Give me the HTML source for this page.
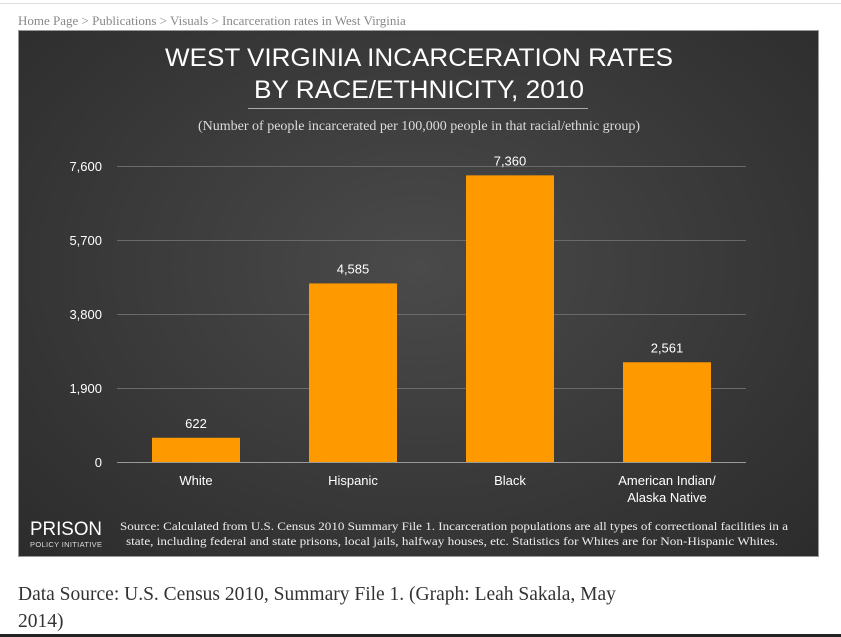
<!DOCTYPE html>
<html><head><meta charset="utf-8"><style>
body{margin:0;width:841px;height:637px;background:#fff;position:relative;overflow:hidden;font-family:"Liberation Serif",serif}
.crumb{position:absolute;left:18px;top:13px;font-size:13px;color:#888}
.panel{position:absolute;left:18px;top:30px;width:801px;height:527px;background:radial-gradient(ellipse at 50% 45%,#4a4a4a,#333 75%,#2c2c2c);border:1px solid #999;box-sizing:border-box}
.foot{position:absolute;left:18px;top:581px;font-size:19.5px;color:#333;line-height:27px;width:625px}
</style></head><body>
<div style="position:absolute;left:0;top:3px;width:841px;height:1px;background:#ddd"></div>
<div class="crumb">Home Page &gt; Publications &gt; Visuals &gt; Incarceration rates in West Virginia</div>
<div class="panel"></div>
<svg id="c" width="841" height="637" style="position:absolute;left:0;top:0">
<text x="419" y="66" text-anchor="middle" fill="#fff" font-family="Liberation Sans,sans-serif" font-size="25" textLength="508" lengthAdjust="spacingAndGlyphs">WEST VIRGINIA INCARCERATION RATES</text>
<text x="419" y="98" text-anchor="middle" fill="#fff" font-family="Liberation Sans,sans-serif" font-size="25" textLength="330" lengthAdjust="spacingAndGlyphs">BY RACE/ETHNICITY, 2010</text>
<line x1="248" x2="588" y1="108.5" y2="108.5" stroke="#aaa"/>
<text x="419" y="130" text-anchor="middle" fill="#ddd" font-size="14">(Number of people incarcerated per 100,000 people in that racial/ethnic group)</text>
<text x="30" y="535" fill="#fff" font-family="Liberation Sans,sans-serif" font-size="19" textLength="72" lengthAdjust="spacingAndGlyphs">PRISON</text>
<text x="30" y="547" fill="#ddd" font-family="Liberation Sans,sans-serif" font-size="7.5" textLength="72">POLICY INITIATIVE</text>
<text x="120" y="530" fill="#eee" font-size="12" textLength="668" lengthAdjust="spacingAndGlyphs">Source: Calculated from U.S. Census 2010 Summary File 1. Incarceration populations are all types of correctional facilities in a</text>
<text x="126" y="545" fill="#eee" font-size="12" textLength="652" lengthAdjust="spacingAndGlyphs">state, including federal and state prisons, local jails, halfway houses, etc. Statistics for Whites are for Non-Hispanic Whites.</text>
<g id="g"></g>
</svg>
<div class="foot">Data Source: U.S. Census 2010, Summary File 1. (Graph: Leah Sakala, May 2014)</div>
<div style="position:absolute;left:0;top:634px;width:841px;height:3px;background:#222"></div>
<script>
const categories=["White","Hispanic","Black","American Indian/|Alaska Native"];
const values=[622,4585,7360,2561];
const valueLabels=["622","4,585","7,360","2,561"];
const ticks=[0,1900,3800,5700,7600];
const tickLabels=["0","1,900","3,800","5,700","7,600"];
const NS="http://www.w3.org/2000/svg",g=document.getElementById('g');
const y=v=>462-v/7600*296;
const xc=i=>196+i*157;
function mk(t,a,txt){const e=document.createElementNS(NS,t);for(const k in a)e.setAttribute(k,a[k]);if(txt!=null)e.textContent=txt;g.appendChild(e);return e;}
ticks.forEach((t,i)=>{
 const l=mk('line',{x1:117,x2:746,y1:y(t)+.5,y2:y(t)+.5,stroke:i==0?'#999':'#6a6a6a'});
 
 
 const tx=mk('text',{x:102,y:y(t)+5,'text-anchor':'end',fill:'#fff','font-family':'Liberation Sans,sans-serif','font-size':13},tickLabels[i]);
 
 
});
values.forEach((v,i)=>{
 const r=mk('rect',{x:xc(i)-44,y:y(v),width:88,height:462-y(v),fill:'#ff9900'});
 
 
 const t=mk('text',{x:xc(i),y:y(v)-10,'text-anchor':'middle',fill:'#fff','font-family':'Liberation Sans,sans-serif','font-size':13},valueLabels[i]);
 
 
 categories[i].split('|').forEach((s,j)=>{
  const c=mk('text',{x:xc(i),y:485+j*17,'text-anchor':'middle',fill:'#fff','font-family':'Liberation Sans,sans-serif','font-size':13},s);
  
  
 });
});
</script>
</body></html>
